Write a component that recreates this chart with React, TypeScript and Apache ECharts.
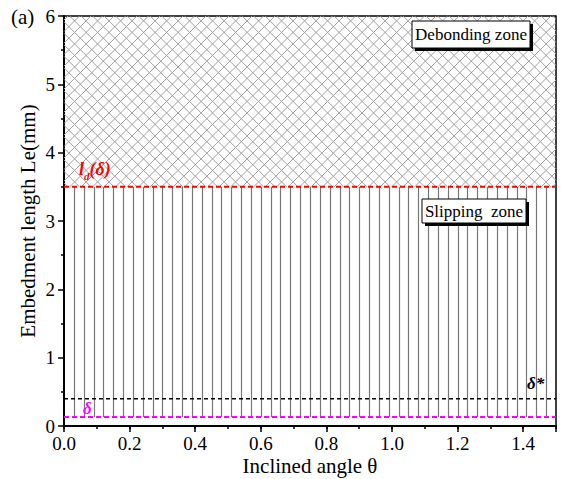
import React, { useEffect, useRef } from "react";
import * as echarts from "echarts";

// ---- data ----
const xRange = [0, 1.5];
const yRange = [0, 6];
const xTickLabels = ["0.0", "0.2", "0.4", "0.6", "0.8", "1.0", "1.2", "1.4"];
const ldDelta = 3.5; // red dashed line l_d(δ)
const deltaStar = 0.4; // black dashed δ*
const deltaLine = 0.13; // magenta dashed δ
const debondTop = 6;
const slipLines = [
  0.03, 0.06, 0.09, 0.12, 0.15, 0.18, 0.21, 0.24, 0.27, 0.3, 0.33, 0.36, 0.39,
  0.42, 0.45, 0.48, 0.51, 0.54, 0.57, 0.6, 0.63, 0.66, 0.69, 0.72, 0.75, 0.78,
  0.81, 0.84, 0.87, 0.9, 0.93, 0.96, 0.99, 1.02, 1.05, 1.08, 1.11, 1.14, 1.17,
  1.2, 1.23, 1.26, 1.29, 1.32, 1.35, 1.38, 1.41, 1.44, 1.47,
];

const FONT = "Liberation Serif";

export default function App() {
  const ref = useRef<HTMLDivElement>(null);
  useEffect(() => {
    if (!ref.current) return;
    const chart = echarts.init(ref.current, null, { renderer: "svg" });
    const HATCH = 11.5;
    const option: any = {
      animation: false,
      grid: {
        left: 64,
        right: 10,
        top: 16,
        bottom: 53,
        containLabel: false,
        outerBoundsMode: "none",
        show: true,
        borderColor: "#000",
        borderWidth: 1.5,
        backgroundColor: "transparent",
      },
      xAxis: [
        {
          type: "value",
          min: xRange[0],
          max: xRange[1],
          interval: 0.2,
          position: "bottom",
          name: "Inclined angle θ",
          nameLocation: "middle",
          nameGap: 29,
          nameMoveOverlap: false,
          nameTextStyle: { fontFamily: FONT, fontSize: 21, color: "#000" },
          axisLine: { show: true, lineStyle: { color: "#000", width: 2 } },
          axisTick: { show: true, length: 6, lineStyle: { color: "#000", width: 1.5 } },
          axisLabel: {
            margin: 8,
            fontFamily: FONT,
            fontSize: 19,
            color: "#000",
            formatter: (v: number) => {
              const i = Math.round(v / 0.2);
              return Math.abs(v - i * 0.2) < 1e-6 && i < xTickLabels.length ? xTickLabels[i] : "";
            },
          },
          splitLine: { show: false },
        },
        {
          type: "value",
          min: xRange[0],
          max: xRange[1],
          interval: 0.1,
          position: "bottom",
          axisLine: { show: false },
          axisTick: { show: true, length: 3, lineStyle: { color: "#000", width: 1.5 } },
          axisLabel: { show: false },
          splitLine: { show: false },
        },
      ],
      yAxis: {
        type: "value",
        min: yRange[0],
        max: yRange[1],
        interval: 1,
        name: "Embedment length Le(mm)",
        nameLocation: "middle",
        nameGap: 26,
        nameMoveOverlap: false,
        nameTextStyle: { fontFamily: FONT, fontSize: 21, color: "#000" },
        axisLine: { show: true, lineStyle: { color: "#000", width: 2 } },
        axisTick: { show: true, length: 6, lineStyle: { color: "#000", width: 1.5 } },
        minorTick: { show: true, splitNumber: 2, length: 3, lineStyle: { color: "#000", width: 1.5 } },
        axisLabel: { margin: 9, fontFamily: FONT, fontSize: 19, color: "#000" },
        splitLine: { show: false },
        minorSplitLine: { show: false },
      },
      series: [
        {
          type: "custom",
          name: "hatch",
          silent: true,
          data: [[xRange[0], ldDelta, xRange[1], debondTop]],
          renderItem: (params: any, api: any) => {
            const a = api.coord([api.value(0), api.value(3)]);
            const b = api.coord([api.value(2), api.value(1)]);
            const L = a[0], T = a[1], R = b[0], B = b[1];
            const children: any[] = [];
            const style = { stroke: "#a0a0a0", lineWidth: 1 };
            for (let k = L + T + 4; k <= R + B; k += HATCH) {
              const xa = Math.max(L, k - B);
              const xb = Math.min(R, k - T);
              if (xb > xa) children.push({ type: "line", shape: { x1: xa, y1: k - xa, x2: xb, y2: k - xb }, style });
            }
            for (let k = L - B + 4; k <= R - T; k += HATCH) {
              const xa = Math.max(L, T + k);
              const xb = Math.min(R, B + k);
              if (xb > xa) children.push({ type: "line", shape: { x1: xa, y1: xa - k, x2: xb, y2: xb - k }, style });
            }
            return { type: "group", children };
          },
          z: 1,
        },
        {
          type: "custom",
          name: "slip",
          silent: true,
          data: slipLines.map((x) => [x, deltaLine, ldDelta]),
          renderItem: (params: any, api: any) => {
            const p1 = api.coord([api.value(0), api.value(1)]);
            const p2 = api.coord([api.value(0), api.value(2)]);
            return {
              type: "line",
              shape: { x1: Math.round(p1[0]) + 0.5, y1: p1[1], x2: Math.round(p2[0]) + 0.5, y2: p2[1] },
              style: { stroke: "#777", lineWidth: 1.2 },
            };
          },
          z: 2,
        },
        {
          type: "line",
          name: "ld",
          data: [[xRange[0], ldDelta], [xRange[1], ldDelta]],
          symbol: "none",
          lineStyle: { color: "#ff0000", width: 2, type: [5, 3] },
          z: 3,
        },
        {
          type: "line",
          name: "dstar",
          data: [[xRange[0], deltaStar], [xRange[1], deltaStar]],
          symbol: "none",
          lineStyle: { color: "#000", width: 1.5, type: [4, 3] },
          z: 3,
        },
        {
          type: "line",
          name: "delta",
          data: [[xRange[0], deltaLine], [xRange[1], deltaLine]],
          symbol: "none",
          lineStyle: { color: "#ff00ff", width: 2, type: [5, 3] },
          z: 3,
        },
      ],
      graphic: [
        {
          type: "text",
          x: 11,
          y: 6,
          style: { text: "(a)", font: `21px ${FONT}`, fill: "#000" },
        },
        {
          type: "text",
          x: 79,
          y: 160,
          style: {
            text: "{l|l}{s|d}{l|(δ)}",
            rich: {
              l: { font: `italic bold 18px ${FONT}`, fill: "#ff0000", verticalAlign: "bottom" },
              s: { font: `italic bold 11px ${FONT}`, fill: "#ff0000", verticalAlign: "bottom", padding: [0, 0, -3, 0] },
            },
          },
          z: 10,
        },
        {
          type: "text",
          x: 527,
          y: 375,
          style: { text: "δ*", font: `italic bold 17px ${FONT}`, fill: "#000" },
          z: 10,
        },
        {
          type: "text",
          x: 83,
          y: 400,
          style: { text: "δ", font: `italic bold 17px ${FONT}`, fill: "#ff00ff" },
          z: 10,
        },
        { type: "rect", shape: { x: 415, y: 24, width: 118, height: 27 }, style: { fill: "#000" }, z: 10 },
        { type: "rect", shape: { x: 412, y: 21, width: 118, height: 27 }, style: { fill: "#fff", stroke: "#000", lineWidth: 1 }, z: 11 },
        {
          type: "text",
          x: 471,
          y: 34.5,
          style: { text: "Debonding zone", font: `17px ${FONT}`, fill: "#000", align: "center", verticalAlign: "middle" },
          z: 12,
        },
        { type: "rect", shape: { x: 425, y: 202, width: 104, height: 24 }, style: { fill: "#000" }, z: 10 },
        { type: "rect", shape: { x: 422, y: 199, width: 104, height: 24 }, style: { fill: "#fff", stroke: "#000", lineWidth: 1 }, z: 11 },
        {
          type: "text",
          x: 474,
          y: 211.5,
          style: { text: "Slipping  zone", font: `17px ${FONT}`, fill: "#000", align: "center", verticalAlign: "middle" },
          z: 12,
        },
      ],
    };
    chart.setOption(option);
    return () => chart.dispose();
  }, []);
  return (
    <div
      ref={ref}
      style={{ position: "fixed", left: 0, top: 0, width: 566, height: 479, background: "#fff" }}
    />
  );
}
